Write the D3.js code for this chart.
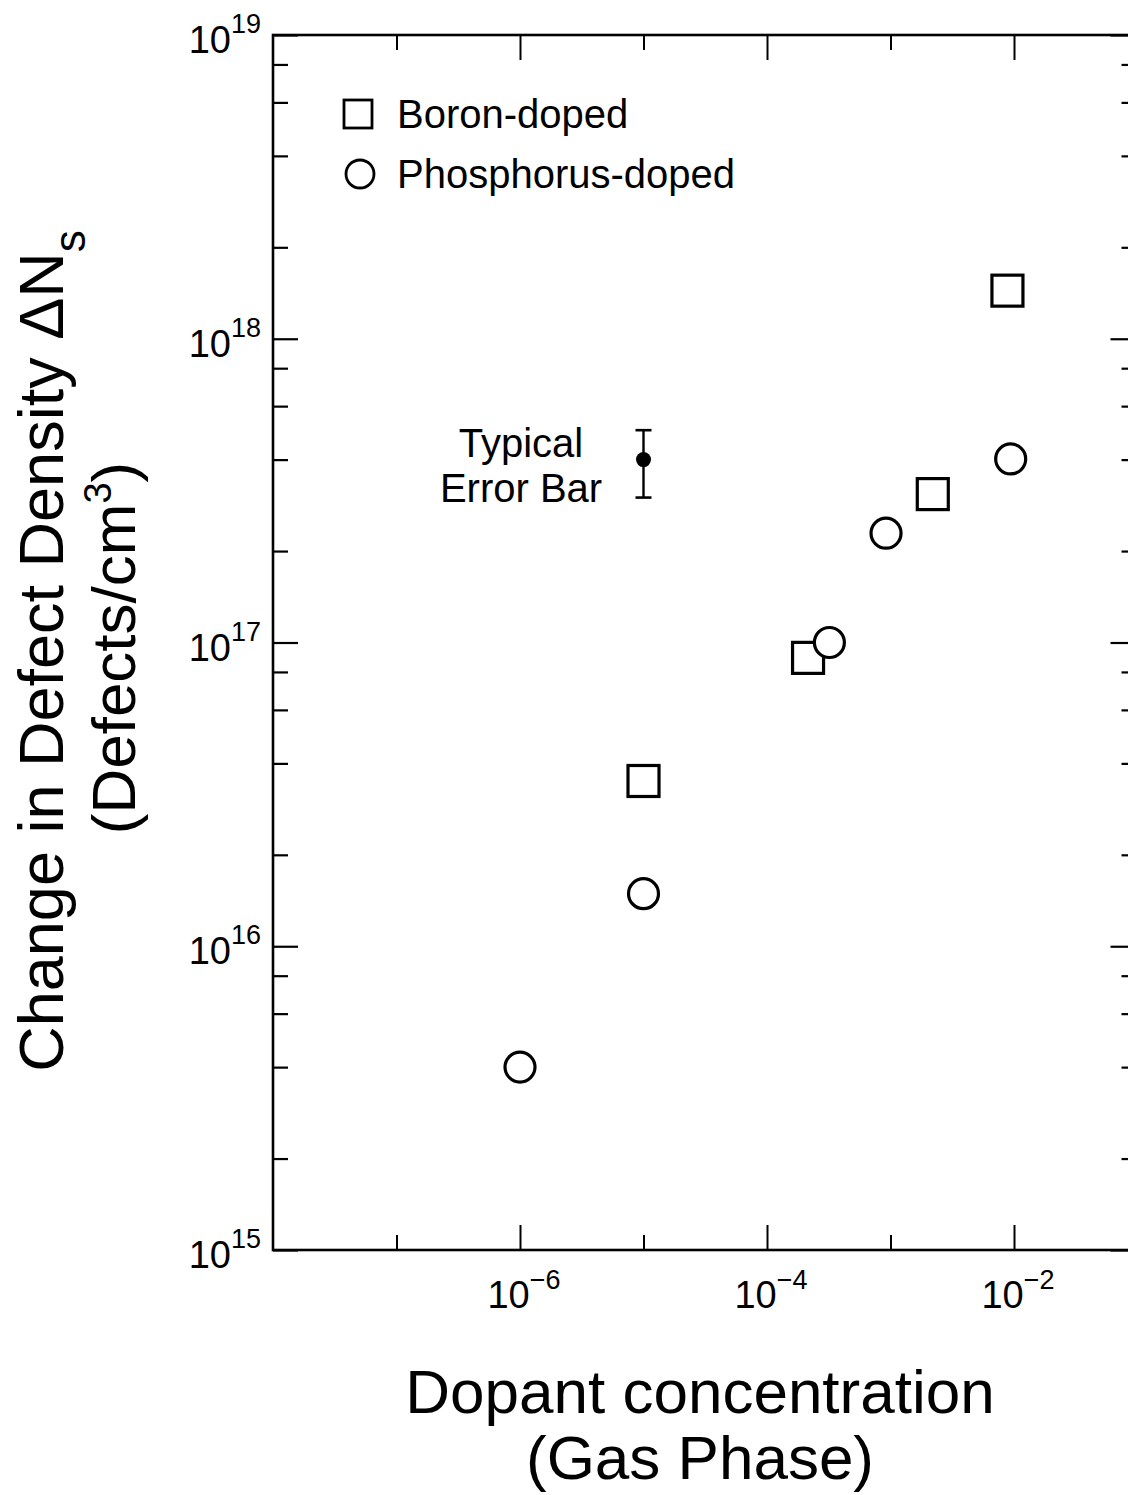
<!DOCTYPE html>
<html>
<head>
<meta charset="utf-8">
<script src="https://cdn.jsdelivr.net/npm/d3@7"></script>
<style>
  html, body { margin: 0; padding: 0; background: #fff; }
  svg { display: block; }
  text { font-family: "Liberation Sans", Arial, Helvetica, sans-serif; fill: #000; }
</style>
</head>
<body>
<svg id="chart" width="1128" height="1495"></svg>
<script>
// ---------- data ----------
const boronX = [1e-5, 2.15e-4, 2.2e-3, 8.85e-3];
const boronY = [3.5e16, 8.9e16, 3.08e17, 1.44e18];
const phosX = [1e-6, 1e-5, 3.2e-4, 9.2e-4, 9.4e-3];
const phosY = [4.0e15, 1.49e16, 1.0e17, 2.29e17, 4.02e17];
const errX = [1e-5];
const errY = [4.0e17];
const errLow = [3.0e17];
const errHigh = [5.0e17];
const xMajorExps = [-6, -4, -2];
const xMinorExps = [-7, -5, -3];
const yMajorExps = [15, 16, 17, 18, 19];
const yMinorMult = [2, 4, 6, 8];
const legendLabels = ["Boron-doped", "Phosphorus-doped"];
const errorLabelLines = ["Typical", "Error Bar"];
const xTitleLines = ["Dopant concentration", "(Gas Phase)"];

// ---------- layout ----------
const L = 273, R = 1137.5, T = 35, B = 1250;
const svg = d3.select("#chart");
const x = d3.scaleLog().domain([1e-8, 1e-1]).range([L, R]);
const y = d3.scaleLog().domain([1e15, 1e19]).range([B, T]);

const yMinor = [];
for (let e = 15; e < 19; e++) yMinorMult.forEach(m => yMinor.push(m * Math.pow(10, e)));
const yMajor = yMajorExps.map(e => Math.pow(10, e));
const xMajor = xMajorExps.map(e => Math.pow(10, e));
const xMinor = xMinorExps.map(e => Math.pow(10, e));

function styleAxis(g, sw) {
  g.select(".domain").remove();
  g.selectAll(".tick line").attr("stroke", "#000").attr("stroke-width", sw);
  g.selectAll(".tick text").remove();
}

// left axis ticks
svg.append("g").attr("transform", `translate(${L},0)`)
  .call(d3.axisLeft(y).tickValues(yMinor).tickSize(-15).tickFormat(""))
  .call(g => styleAxis(g, 2.2));
svg.append("g").attr("transform", `translate(${L},0)`)
  .call(d3.axisLeft(y).tickValues(yMajor).tickSize(-25).tickFormat(""))
  .call(g => styleAxis(g, 2.2));
// right axis ticks
svg.append("g").attr("transform", `translate(${R},0)`)
  .call(d3.axisRight(y).tickValues(yMinor).tickSize(-16).tickFormat(""))
  .call(g => styleAxis(g, 2.2));
svg.append("g").attr("transform", `translate(${R},0)`)
  .call(d3.axisRight(y).tickValues(yMajor).tickSize(-27).tickFormat(""))
  .call(g => styleAxis(g, 2.2));
// bottom axis ticks
svg.append("g").attr("transform", `translate(0,${B})`)
  .call(d3.axisBottom(x).tickValues(xMinor).tickSize(-15).tickFormat(""))
  .call(g => styleAxis(g, 2));
svg.append("g").attr("transform", `translate(0,${B})`)
  .call(d3.axisBottom(x).tickValues(xMajor).tickSize(-25).tickFormat(""))
  .call(g => styleAxis(g, 2));
// top axis ticks
svg.append("g").attr("transform", `translate(0,${T})`)
  .call(d3.axisTop(x).tickValues(xMinor).tickSize(-15).tickFormat(""))
  .call(g => styleAxis(g, 2));
svg.append("g").attr("transform", `translate(0,${T})`)
  .call(d3.axisTop(x).tickValues(xMajor).tickSize(-25).tickFormat(""))
  .call(g => styleAxis(g, 2));

// frame
svg.append("rect").attr("x", L).attr("y", T).attr("width", R - L).attr("height", B - T)
  .attr("fill", "none").attr("stroke", "#000").attr("stroke-width", 2.6);

// y tick labels
const yl = svg.append("g");
yMajorExps.forEach(e => {
  const t = yl.append("text").attr("x", 261).attr("y", y(Math.pow(10, e)) + 18)
    .attr("text-anchor", "end").attr("font-size", 38);
  t.append("tspan").text("10");
  t.append("tspan").attr("font-size", 27).attr("dy", -20).text(String(e));
});
// x tick labels
xMajorExps.forEach(e => {
  const t = svg.append("text").attr("x", x(Math.pow(10, e)) + 4).attr("y", B + 58)
    .attr("text-anchor", "middle").attr("font-size", 38);
  t.append("tspan").text("10");
  t.append("tspan").attr("font-size", 27).attr("dy", -19).text("\u2212" + Math.abs(e));
});

// axis titles
xTitleLines.forEach((s, i) => {
  svg.append("text").attr("x", 700).attr("y", 1413 + i * 66)
    .attr("text-anchor", "middle").attr("font-size", 62).text(s);
});
const yt1 = svg.append("text").attr("transform", "translate(63,651) rotate(-90)")
  .attr("text-anchor", "middle").attr("font-size", 63);
yt1.append("tspan").text("Change in Defect Density  \u0394N");
yt1.append("tspan").attr("font-size", 44).attr("dy", 22).text("s");
const yt2 = svg.append("text").attr("transform", "translate(135,648) rotate(-90)")
  .attr("text-anchor", "middle").attr("font-size", 62);
yt2.append("tspan").text("(Defects/cm");
yt2.append("tspan").attr("font-size", 38).attr("dy", -24).text("3");
yt2.append("tspan").attr("dy", 24).text(")");

// data markers
const ms = 31;
svg.append("g").selectAll("rect").data(boronX.map((v, i) => [v, boronY[i]])).join("rect")
  .attr("x", d => x(d[0]) - ms / 2).attr("y", d => y(d[1]) - ms / 2)
  .attr("width", ms).attr("height", ms)
  .attr("fill", "#fff").attr("stroke", "#000").attr("stroke-width", 3.2);
svg.append("g").selectAll("circle").data(phosX.map((v, i) => [v, phosY[i]])).join("circle")
  .attr("cx", d => x(d[0])).attr("cy", d => y(d[1])).attr("r", 15)
  .attr("fill", "#fff").attr("stroke", "#000").attr("stroke-width", 3.2);

// typical error bar
const eb = svg.append("g");
errX.forEach((v, i) => {
  const cx = x(v);
  eb.append("line").attr("x1", cx).attr("x2", cx).attr("y1", y(errHigh[i])).attr("y2", y(errLow[i]))
    .attr("stroke", "#000").attr("stroke-width", 2.4);
  [errHigh[i], errLow[i]].forEach(w => {
    eb.append("line").attr("x1", cx - 8).attr("x2", cx + 8).attr("y1", y(w)).attr("y2", y(w))
      .attr("stroke", "#000").attr("stroke-width", 2.6);
  });
  eb.append("circle").attr("cx", cx).attr("cy", y(errY[i])).attr("r", 7.5).attr("fill", "#000");
});
errorLabelLines.forEach((s, i) => {
  svg.append("text").attr("x", 521).attr("y", 457 + i * 45).attr("text-anchor", "middle")
    .attr("font-size", 40).text(s);
});

// legend
const lg = svg.append("g");
lg.append("rect").attr("x", 344).attr("y", 100).attr("width", 28).attr("height", 28)
  .attr("fill", "#fff").attr("stroke", "#000").attr("stroke-width", 2.8);
lg.append("circle").attr("cx", 360).attr("cy", 174).attr("r", 14)
  .attr("fill", "#fff").attr("stroke", "#000").attr("stroke-width", 2.8);
legendLabels.forEach((s, i) => {
  lg.append("text").attr("x", 397).attr("y", 128 + i * 60).attr("font-size", 40).text(s);
});
</script>
</body>
</html>
